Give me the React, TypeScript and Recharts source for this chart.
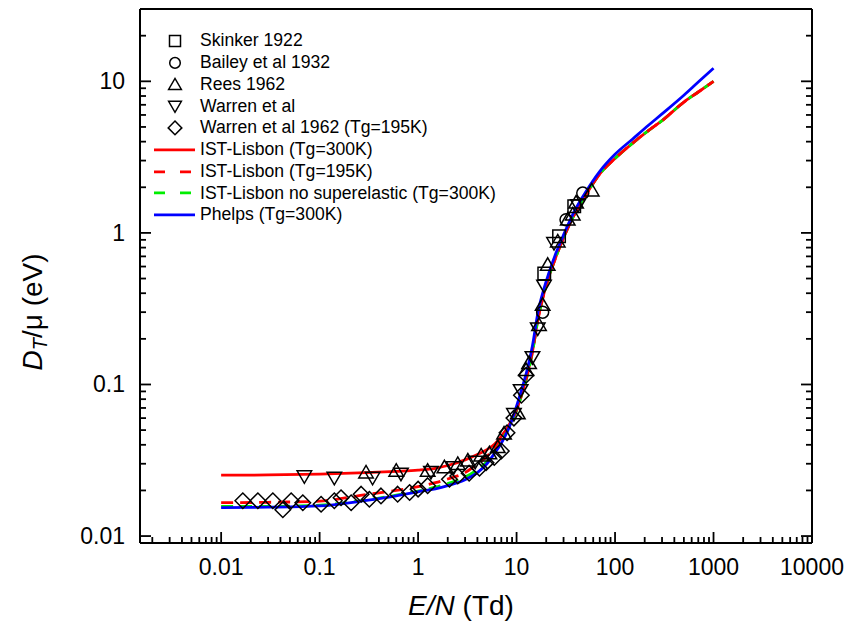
import React from "react";
import { ComposedChart, Line, Scatter, XAxis, YAxis, Legend, Label } from "recharts";

const FONT = "Arial, 'Liberation Sans', Helvetica, sans-serif";

// axis ranges (log scale) and major ticks
const xDomain = [0.0015, 10000];
const yDomain = [0.009, 30];
const xMajor = [0.01, 0.1, 1, 10, 100, 1000, 10000];
const yMajor = [0.01, 0.1, 1, 10];

// model curves: [E/N (Td), D_T/mu (eV)]
const istLisbon300: number[][] = [
  [0.01, 0.0252], [0.03, 0.0253], [0.1, 0.0256], [0.3, 0.0262], [0.6, 0.0267], [1, 0.0272],
  [1.5, 0.028], [2, 0.0292], [3, 0.0318], [4, 0.0345], [5, 0.0372], [6, 0.0405], [7, 0.0455],
  [8.5, 0.055], [10, 0.068], [11.5, 0.09], [13, 0.12], [14.5, 0.165], [16.5, 0.27], [19, 0.4],
  [21, 0.5], [25, 0.69], [30, 0.93], [40, 1.38], [50, 1.76], [70, 2.45], [100, 3.1], [150, 3.9],
  [220, 4.75], [300, 5.5], [500, 7.3], [700, 8.5], [1000, 10],
];
const istLisbon195: number[][] = [
  [0.01, 0.0166], [0.03, 0.0167], [0.1, 0.017], [0.3, 0.0188], [0.6, 0.02], [1, 0.0212],
  [1.5, 0.0225], [2, 0.0238], [3, 0.0262], [4, 0.03], [5, 0.0335], [6, 0.0385], [7, 0.0445],
  [8.5, 0.054], [10, 0.068], [11.5, 0.09], [13, 0.12], [14.5, 0.165], [16.5, 0.27], [19, 0.4],
  [21, 0.5], [25, 0.69], [30, 0.93], [40, 1.38], [50, 1.76], [70, 2.45], [100, 3.1], [150, 3.9],
  [220, 4.75], [300, 5.5], [500, 7.3], [700, 8.5], [1000, 10],
];
const istNoSuper: number[][] = [
  [0.01, 0.0157], [0.03, 0.0157], [0.1, 0.016], [0.3, 0.0173], [0.6, 0.0186], [1, 0.0198],
  [1.5, 0.021], [2, 0.0222], [3, 0.0245], [4, 0.0275], [5, 0.031], [6, 0.036], [7, 0.042],
  [8.5, 0.053], [10, 0.067], [11.5, 0.089], [13, 0.118], [14.5, 0.163], [16.5, 0.268], [19, 0.4],
  [21, 0.5], [25, 0.69], [30, 0.93], [40, 1.38], [50, 1.76], [70, 2.45], [100, 3.1], [150, 3.9],
  [220, 4.75], [300, 5.5], [500, 7.3], [700, 8.5], [1000, 10],
];
const phelps300: number[][] = [
  [0.01, 0.0154], [0.03, 0.0155], [0.1, 0.0158], [0.3, 0.0172], [0.6, 0.0184], [1, 0.0196],
  [1.5, 0.0205], [2, 0.0215], [3, 0.0235], [4, 0.0262], [5, 0.03], [6, 0.0353], [7, 0.041],
  [8.5, 0.053], [10, 0.072], [11.5, 0.097], [13, 0.13], [14.5, 0.18], [16.5, 0.3], [19, 0.43],
  [21, 0.53], [25, 0.73], [30, 0.97], [40, 1.45], [50, 1.85], [70, 2.55], [100, 3.3], [150, 4.15],
  [220, 5.15], [300, 6.1], [500, 8.1], [700, 9.9], [1000, 12.2],
];

// measurements
const skinker1922: number[][] = [[19.1, 0.54], [27, 0.95], [38.5, 1.5]];
const bailey1932: number[][] = [[18.4, 0.3], [31.8, 1.22], [47, 1.83]];
const rees1962: number[][] = [
  [0.296, 0.0262], [0.6, 0.0269], [1.25, 0.0269], [1.85, 0.0283], [2.53, 0.0298], [3.2, 0.0314],
  [4.37, 0.0339], [5.3, 0.035], [6.44, 0.0385], [7.46, 0.0473], [10.3, 0.0643], [12.5, 0.124],
  [13.4, 0.138], [16.9, 0.246], [18.4, 0.334], [20.7, 0.614], [26.2, 0.875], [33.1, 1.22],
  [37.2, 1.32], [40.2, 1.58], [58, 1.9],
];
const warren: number[][] = [
  [0.07, 0.0249], [0.141, 0.0243], [0.345, 0.0243], [0.67, 0.0259], [1.35, 0.0266], [2.3, 0.0285],
  [3.8, 0.031], [9.4, 0.064], [11, 0.092], [14.5, 0.152], [16.4, 0.235], [19, 0.45], [24, 0.86],
  [42, 1.53],
];
const warren1962: number[][] = [
  [0.0166, 0.0171], [0.0236, 0.0171], [0.0335, 0.0171], [0.0423, 0.0149], [0.0514, 0.0171],
  [0.0675, 0.0166], [0.1035, 0.0162], [0.141, 0.0171], [0.165, 0.0179], [0.209, 0.0166],
  [0.264, 0.0189], [0.32, 0.0175], [0.42, 0.0184], [0.62, 0.0189], [0.82, 0.0194], [1.0, 0.0204],
  [1.25, 0.0215], [2.08, 0.0237], [2.53, 0.0249], [3.3, 0.026], [4.2, 0.028], [4.9, 0.0305],
  [5.94, 0.033], [7.0, 0.0364], [8.0, 0.048], [9.4, 0.06], [11.2, 0.085], [12.5, 0.115],
];

const pts = (arr: number[][]) => arr.map(([x, y]) => ({ x, y }));

const isMajor = (v: number) => Math.abs(Math.log10(v) - Math.round(Math.log10(v))) < 1e-6;

const withMinors = (majors: number[], lo: number, hi: number) => {
  const out: number[] = [];
  [majors[0] / 10, ...majors].forEach((d) => {
    for (let m = 1; m <= 9; m++) {
      const v = Number((d * m).toPrecision(6));
      if (v >= lo && v <= hi && !out.includes(v)) out.push(v);
    }
  });
  return out;
};

const xTicks = withMinors(xMajor, 0.002, 10000);
const yTicks = withMinors(yMajor, 0.01, 20);

const TICK_W = 1.8;

const tickRenderer = (side: string, showLabel: boolean) => (p: any) => {
  const v = p.payload.value;
  const major = isMajor(v);
  const len = major ? 11 : 6;
  const { x, y } = p;
  let line;
  if (side === "bottom") line = <line x1={x} x2={x} y1={y} y2={y - len} />;
  else if (side === "top") line = <line x1={x} x2={x} y1={y} y2={y + len} />;
  else if (side === "left") line = <line x1={x} x2={x + len} y1={y} y2={y} />;
  else line = <line x1={x} x2={x - len} y1={y} y2={y} />;
  let label = null;
  if (showLabel && major) {
    label =
      side === "bottom" ? (
        <text x={x} y={y + 32} textAnchor="middle" fontSize={23} fontFamily={FONT} fill="#000">
          {String(v)}
        </text>
      ) : (
        <text x={x - 15} y={y} textAnchor="end" dominantBaseline="central" fontSize={23} fontFamily={FONT} fill="#000">
          {String(v)}
        </text>
      );
  }
  return (
    <g stroke="#000" strokeWidth={TICK_W}>
      {line}
      <g stroke="none">{label}</g>
    </g>
  );
};

const markerPath = (kind: string, cx: number, cy: number, s: number) => {
  if (kind === "square") return `M${cx - s * 0.5},${cy - s * 0.5}h${s}v${s}h${-s}Z`;
  if (kind === "up") return `M${cx - s * 0.58},${cy + s * 0.42}L${cx + s * 0.58},${cy + s * 0.42}L${cx},${cy - s * 0.58}Z`;
  if (kind === "down") return `M${cx - s * 0.58},${cy - s * 0.42}L${cx + s * 0.58},${cy - s * 0.42}L${cx},${cy + s * 0.58}Z`;
  if (kind === "diamond") return `M${cx},${cy - s * 0.62}L${cx + s * 0.62},${cy}L${cx},${cy + s * 0.62}L${cx - s * 0.62},${cy}Z`;
  return "";
};

const Marker = ({ kind, cx, cy, s }: any) =>
  kind === "circle" ? (
    <circle cx={cx} cy={cy} r={s * 0.48} fill="none" stroke="#000" strokeWidth={1.5} />
  ) : (
    <path d={markerPath(kind, cx, cy, s)} fill="none" stroke="#000" strokeWidth={1.5} />
  );

const shapeOf = (kind: string) => (p: any) => <Marker kind={kind} cx={p.cx} cy={p.cy} s={12.5} />;

const legendItems = [
  { name: "Skinker 1922", marker: "square" },
  { name: "Bailey et al 1932", marker: "circle" },
  { name: "Rees 1962", marker: "up" },
  { name: "Warren et al", marker: "down" },
  { name: "Warren et al 1962 (Tg=195K)", marker: "diamond" },
  { name: "IST-Lisbon (Tg=300K)", color: "#ff0000" },
  { name: "IST-Lisbon (Tg=195K)", color: "#ff0000", dash: "11 15" },
  { name: "IST-Lisbon no superelastic (Tg=300K)", color: "#00ee00", dash: "11 15" },
  { name: "Phelps (Tg=300K)", color: "#0000ff" },
];

const ROW = 21.75;

const LegendBox = () => (
  <div style={{ fontFamily: FONT, fontSize: 17.6, color: "#000" }}>
    {legendItems.map((it) => (
      <div key={it.name} style={{ display: "flex", alignItems: "center", height: ROW, whiteSpace: "nowrap" }}>
        <svg width={46} height={ROW} style={{ display: "block" }}>
          {it.marker ? (
            <Marker kind={it.marker} cx={21} cy={ROW / 2} s={11} />
          ) : (
            <line x1={0} x2={41} y1={ROW / 2} y2={ROW / 2} stroke={it.color} strokeWidth={2.8} strokeDasharray={it.dash} />
          )}
        </svg>
        <span>{it.name}</span>
      </div>
    ))}
  </div>
);

const XTitle = () => (
  <text x={461} y={615} textAnchor="middle" fontSize={28} fontFamily={FONT} fill="#000">
    <tspan fontStyle="italic">E/N</tspan>
    <tspan> (Td)</tspan>
  </text>
);

const YTitle = () => (
  <text transform="translate(42,312) rotate(-90)" textAnchor="middle" fontSize={28} fontFamily={FONT} fill="#000">
    <tspan fontStyle="italic">D</tspan>
    <tspan fontStyle="italic" fontSize={20} dy={5}>T</tspan>
    <tspan dy={-5}>/μ (eV)</tspan>
  </text>
);

const axisLine = { stroke: "#000", strokeWidth: 2 };

export default function App() {
  return (
    <div style={{ position: "absolute", left: 0, top: 0, width: 849, height: 626, background: "#fff" }}>
      <ComposedChart width={849} height={626} margin={{ top: 8, right: 27, bottom: 43, left: 60 }}>
        <XAxis
          dataKey="x"
          type="number"
          scale="log"
          domain={xDomain}
          allowDataOverflow
          ticks={xTicks}
          interval={0}
          height={40}
          tickSize={0}
          tickMargin={0}
          tickLine={false}
          axisLine={axisLine}
          tick={tickRenderer("bottom", true)}
        >
          <Label content={<XTitle />} />
        </XAxis>
        <XAxis
          xAxisId="top"
          orientation="top"
          type="number"
          scale="log"
          domain={xDomain}
          allowDataOverflow
          ticks={xTicks}
          interval={0}
          height={1}
          tickSize={0}
          tickMargin={0}
          tickLine={false}
          axisLine={axisLine}
          tick={tickRenderer("top", false)}
        />
        <YAxis
          dataKey="y"
          type="number"
          scale="log"
          domain={yDomain}
          allowDataOverflow
          ticks={yTicks}
          interval={0}
          width={80}
          tickSize={0}
          tickMargin={0}
          tickLine={false}
          axisLine={axisLine}
          tick={tickRenderer("left", true)}
        >
          <Label content={<YTitle />} />
        </YAxis>
        <YAxis
          yAxisId="right"
          orientation="right"
          type="number"
          scale="log"
          domain={yDomain}
          allowDataOverflow
          ticks={yTicks}
          interval={0}
          width={10}
          tickSize={0}
          tickMargin={0}
          tickLine={false}
          axisLine={axisLine}
          tick={tickRenderer("right", false)}
        />
        <Scatter name="Skinker 1922" data={pts(skinker1922)} shape={shapeOf("square")} isAnimationActive={false} />
        <Scatter name="Bailey et al 1932" data={pts(bailey1932)} shape={shapeOf("circle")} isAnimationActive={false} />
        <Scatter name="Rees 1962" data={pts(rees1962)} shape={shapeOf("up")} isAnimationActive={false} />
        <Scatter name="Warren et al" data={pts(warren)} shape={shapeOf("down")} isAnimationActive={false} />
        <Scatter name="Warren et al 1962 (Tg=195K)" data={pts(warren1962)} shape={shapeOf("diamond")} isAnimationActive={false} />
        <Line data={pts(istLisbon300)} dataKey="y" type="monotone" stroke="#ff0000" strokeWidth={2.8} dot={false} isAnimationActive={false} />
        <Line data={pts(istNoSuper)} dataKey="y" type="monotone" stroke="#00ee00" strokeWidth={2.8} strokeDasharray="12 7" dot={false} isAnimationActive={false} />
        <Line data={pts(istLisbon195)} dataKey="y" type="monotone" stroke="#ff0000" strokeWidth={2.8} strokeDasharray="12 7" dot={false} isAnimationActive={false} />
        <Line data={pts(phelps300)} dataKey="y" type="monotone" stroke="#0000ff" strokeWidth={2.8} dot={false} isAnimationActive={false} />
        <Legend
          layout="vertical"
          align="center"
          verticalAlign="middle"
          content={<LegendBox />}
          wrapperStyle={{ left: 154, top: 30, width: "auto" }}
        />
      </ComposedChart>
    </div>
  );
}
